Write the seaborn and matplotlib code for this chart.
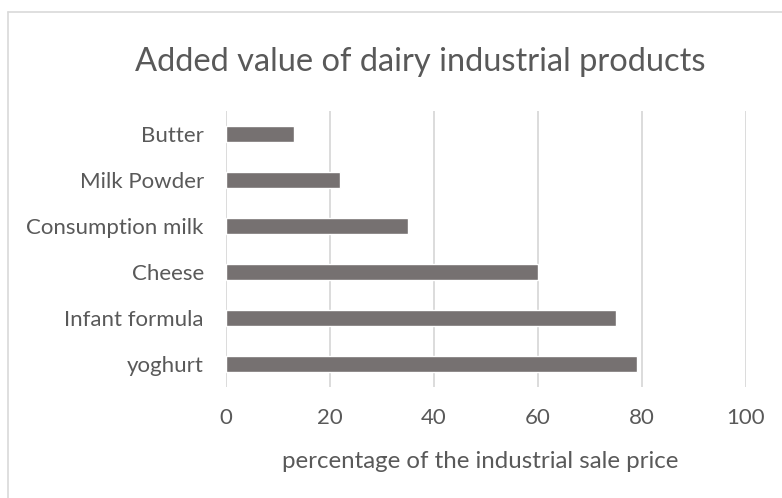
import matplotlib
matplotlib.use("Agg")
import matplotlib.pyplot as plt
import seaborn as sns
import pandas as pd
from matplotlib.lines import Line2D

categories = ["Butter", "Milk Powder", "Consumption milk", "Cheese", "Infant formula", "yoghurt"]
values = [13, 22, 35, 60, 75, 79]
xticks = [0, 20, 40, 60, 80, 100]

sns.set_theme(style="white")
plt.rcParams['font.family'] = ['Lato', 'DejaVu Sans']

df = pd.DataFrame({"category": categories, "value": values})

fig = plt.figure(figsize=(7.82, 4.98), dpi=100)
ax = fig.add_axes([226/782, 1-387/498, (746-226)/782, (387-111)/498])

sns.barplot(data=df, x="value", y="category", orient="h", color="#767171",
            width=0.35, saturation=1, ax=ax, zorder=3)

ax.set_xlim(0, 100)
ax.set_xticks(xticks)
ax.set_xticklabels([str(t) for t in xticks])
ax.grid(axis="x", color="#d9d9d9", linewidth=1.3, zorder=0)
ax.set_axisbelow(True)
for s in ax.spines.values():
    s.set_visible(False)
ax.tick_params(axis="both", length=0, labelsize=16, labelcolor="#595959")
ax.tick_params(axis="y", pad=16)
ax.tick_params(axis="x", pad=15)
ax.set_ylabel("")
ax.set_xlabel("percentage of the industrial sale price", fontsize=17.3, color="#595959", labelpad=17)
ax.xaxis.label.set_x((480 - 226) / 520)
ax.set_ylim(5.5, -0.5)

fig.text(420/782, 1-62/498, "Added value of dairy industrial products", ha="center", va="center",
         fontsize=23.5, color="#595959")

fig.lines.append(Line2D([8/782, 8/782], [0, 1-12/498], transform=fig.transFigure,
                        color="#d9d9d9", linewidth=1.2))
fig.lines.append(Line2D([8/782, 1], [1-12/498, 1-12/498], transform=fig.transFigure,
                        color="#d9d9d9", linewidth=1.2))

fig.savefig("out.png", dpi=100)
